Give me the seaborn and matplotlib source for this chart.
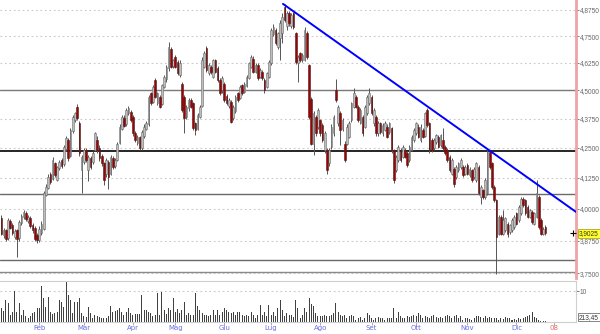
import numpy as np
import pandas as pd
import matplotlib
matplotlib.use("Agg")
import matplotlib.pyplot as plt
import matplotlib.transforms as mtransforms
from matplotlib.ticker import FixedLocator, NullLocator, FuncFormatter
import seaborn as sns

# ---------------- data ----------------
OPEN = [3.961, 3.895, 3.915, 3.885, 3.950, 3.935, 3.890, 3.915, 3.885, 3.945,
        3.968, 3.982, 3.952, 3.962, 3.935, 3.925, 3.898, 3.878, 3.905, 3.920,
        4.055, 4.085, 4.142, 4.120, 4.184, 4.115, 4.165, 4.198, 4.180, 4.245,
        4.283, 4.215, 4.320, 4.370, 4.427, 4.355, 4.156, 4.190, 4.240, 4.156,
        4.205, 4.190, 4.240, 4.283, 4.250, 4.215, 4.184, 4.140, 4.190, 4.140,
        4.205, 4.172, 4.200, 4.270, 4.330, 4.380, 4.350, 4.400, 4.405, 4.384,
        4.311, 4.270, 4.295, 4.250, 4.300, 4.330, 4.350, 4.487, 4.450, 4.547,
        4.445, 4.472, 4.440, 4.515, 4.550, 4.600, 4.690, 4.610, 4.654, 4.630,
        4.570, 4.530, 4.470, 4.384, 4.420, 4.457, 4.442, 4.355, 4.330, 4.384,
        4.430, 4.607, 4.692, 4.577, 4.607, 4.562, 4.638, 4.600, 4.547, 4.500,
        4.530, 4.475, 4.430, 4.450, 4.380, 4.410, 4.487, 4.465, 4.524, 4.495,
        4.520, 4.555, 4.607, 4.645, 4.585, 4.615, 4.560, 4.585, 4.547, 4.516,
        4.560, 4.623, 4.760, 4.779, 4.700, 4.740, 4.763, 4.891, 4.800, 4.859,
        4.800, 4.859, 4.763, 4.623, 4.669, 4.638, 4.640, 4.763, 4.615, 4.460,
        4.268, 4.384, 4.340, 4.369, 4.347, 4.240, 4.240, 4.184, 4.254, 4.311,
        4.502, 4.355, 4.398, 4.330, 4.268, 4.268, 4.297, 4.369, 4.427, 4.472,
        4.427, 4.355, 4.384, 4.340, 4.398, 4.442, 4.472, 4.355, 4.384, 4.311,
        4.355, 4.311, 4.326, 4.340, 4.318, 4.333, 4.240, 4.156, 4.198, 4.240,
        4.212, 4.240, 4.226, 4.198, 4.240, 4.283, 4.311, 4.340, 4.283, 4.326,
        4.300, 4.413, 4.355, 4.283, 4.247, 4.275, 4.297, 4.261, 4.283, 4.254,
        4.240, 4.212, 4.142, 4.163, 4.129, 4.156, 4.170, 4.170, 4.142, 4.177,
        4.135, 4.156, 4.129, 4.115, 4.170, 4.047, 4.074, 4.047, 4.061, 4.233,
        4.184, 4.088, 4.034, 3.902, 3.967, 3.902, 3.915, 3.941, 3.908, 3.915,
        3.928, 3.981, 3.954, 3.981, 4.040, 4.034, 4.007, 3.967, 3.987, 3.941,
        3.967, 4.047, 3.954, 3.902, 3.928]

HIGH = [3.975, 3.925, 3.920, 3.962, 3.960, 3.945, 3.920, 3.920, 3.955, 3.980,
        3.995, 3.990, 3.975, 3.970, 3.945, 3.930, 3.905, 3.930, 3.950, 4.070,
        4.100, 4.140, 4.150, 4.210, 4.190, 4.175, 4.200, 4.205, 4.262, 4.300,
        4.290, 4.335, 4.390, 4.405, 4.440, 4.365, 4.220, 4.250, 4.250, 4.220,
        4.215, 4.235, 4.318, 4.300, 4.260, 4.225, 4.190, 4.205, 4.200, 4.220,
        4.215, 4.205, 4.275, 4.350, 4.392, 4.390, 4.420, 4.430, 4.415, 4.390,
        4.320, 4.305, 4.300, 4.325, 4.350, 4.365, 4.480, 4.495, 4.525, 4.555,
        4.495, 4.480, 4.530, 4.570, 4.615, 4.720, 4.700, 4.645, 4.660, 4.640,
        4.638, 4.540, 4.478, 4.435, 4.465, 4.465, 4.450, 4.360, 4.400, 4.435,
        4.650, 4.680, 4.705, 4.625, 4.615, 4.645, 4.645, 4.610, 4.555, 4.565,
        4.540, 4.485, 4.465, 4.455, 4.435, 4.480, 4.495, 4.525, 4.530, 4.540,
        4.570, 4.630, 4.660, 4.655, 4.625, 4.625, 4.600, 4.592, 4.555, 4.585,
        4.640, 4.790, 4.810, 4.790, 4.770, 4.827, 4.860, 4.905, 4.870, 4.870,
        4.860, 4.865, 4.770, 4.660, 4.675, 4.670, 4.795, 4.775, 4.620, 4.470,
        4.410, 4.390, 4.420, 4.375, 4.355, 4.320, 4.250, 4.250, 4.350, 4.390,
        4.552, 4.435, 4.410, 4.380, 4.280, 4.350, 4.365, 4.450, 4.509, 4.480,
        4.435, 4.420, 4.390, 4.435, 4.480, 4.509, 4.480, 4.420, 4.390, 4.365,
        4.362, 4.355, 4.365, 4.350, 4.362, 4.340, 4.245, 4.220, 4.262, 4.248,
        4.260, 4.248, 4.235, 4.262, 4.305, 4.335, 4.362, 4.350, 4.350, 4.335,
        4.405, 4.420, 4.360, 4.290, 4.290, 4.310, 4.305, 4.310, 4.333, 4.260,
        4.248, 4.220, 4.205, 4.170, 4.178, 4.190, 4.205, 4.178, 4.178, 4.185,
        4.170, 4.163, 4.170, 4.190, 4.177, 4.095, 4.080, 4.122, 4.245, 4.240,
        4.190, 4.095, 4.040, 3.975, 3.975, 3.994, 3.967, 3.948, 3.941, 3.961,
        3.974, 3.988, 4.014, 4.047, 4.047, 4.040, 4.014, 4.000, 3.994, 3.988,
        4.115, 4.055, 3.961, 3.928, 3.935]

LOW = [3.895, 3.885, 3.872, 3.878, 3.920, 3.898, 3.882, 3.812, 3.875, 3.935,
       3.960, 3.950, 3.945, 3.925, 3.905, 3.875, 3.865, 3.870, 3.895, 3.915,
       4.050, 4.080, 4.100, 4.115, 4.128, 4.110, 4.155, 4.165, 4.175, 4.235,
       4.195, 4.210, 4.315, 4.360, 4.370, 4.215, 4.061, 4.180, 4.190, 4.110,
       4.160, 4.180, 4.235, 4.230, 4.195, 4.175, 4.095, 4.130, 4.080, 4.135,
       4.160, 4.165, 4.195, 4.265, 4.325, 4.338, 4.345, 4.390, 4.360, 4.300,
       4.275, 4.260, 4.240, 4.240, 4.290, 4.325, 4.345, 4.435, 4.445, 4.465,
       4.435, 4.420, 4.435, 4.510, 4.540, 4.590, 4.600, 4.600, 4.600, 4.570,
       4.560, 4.405, 4.311, 4.375, 4.410, 4.420, 4.325, 4.304, 4.325, 4.378,
       4.425, 4.600, 4.585, 4.570, 4.575, 4.555, 4.578, 4.540, 4.480, 4.490,
       4.450, 4.435, 4.420, 4.355, 4.370, 4.400, 4.450, 4.460, 4.480, 4.490,
       4.515, 4.550, 4.600, 4.580, 4.578, 4.548, 4.555, 4.548, 4.490, 4.510,
       4.555, 4.615, 4.750, 4.710, 4.690, 4.640, 4.716, 4.815, 4.779, 4.800,
       4.790, 4.785, 4.620, 4.539, 4.630, 4.630, 4.635, 4.645, 4.375, 4.260,
       4.219, 4.300, 4.330, 4.300, 4.275, 4.230, 4.140, 4.175, 4.245, 4.300,
       4.450, 4.345, 4.260, 4.320, 4.190, 4.260, 4.290, 4.360, 4.420, 4.420,
       4.360, 4.350, 4.300, 4.335, 4.390, 4.435, 4.390, 4.345, 4.300, 4.300,
       4.310, 4.300, 4.320, 4.290, 4.310, 4.230, 4.105, 4.148, 4.190, 4.190,
       4.205, 4.205, 4.170, 4.190, 4.235, 4.275, 4.305, 4.290, 4.275, 4.290,
       4.295, 4.340, 4.230, 4.233, 4.240, 4.268, 4.247, 4.255, 4.240, 4.220,
       4.190, 4.148, 4.135, 4.088, 4.120, 4.148, 4.160, 4.128, 4.135, 4.135,
       4.128, 4.108, 4.120, 4.108, 4.054, 4.020, 4.040, 4.040, 4.054, 4.163,
       4.080, 4.027, 3.749, 3.895, 3.895, 3.895, 3.908, 3.889, 3.900, 3.908,
       3.920, 3.935, 3.948, 3.975, 4.007, 3.975, 3.961, 3.961, 3.941, 3.935,
       3.961, 3.920, 3.895, 3.895, 3.895]

CLOSE = [3.902, 3.915, 3.880, 3.954, 3.925, 3.905, 3.912, 3.882, 3.947, 3.972,
         3.985, 3.958, 3.967, 3.930, 3.915, 3.882, 3.876, 3.920, 3.940, 4.061,
         4.088, 4.129, 4.108, 4.198, 4.135, 4.170, 4.190, 4.175, 4.254, 4.290,
         4.205, 4.326, 4.384, 4.398, 4.376, 4.226, 4.212, 4.240, 4.198, 4.212,
         4.170, 4.226, 4.311, 4.240, 4.205, 4.184, 4.115, 4.198, 4.129, 4.212,
         4.170, 4.198, 4.268, 4.340, 4.384, 4.345, 4.413, 4.420, 4.369, 4.311,
         4.283, 4.297, 4.247, 4.318, 4.340, 4.355, 4.472, 4.442, 4.516, 4.472,
         4.487, 4.427, 4.524, 4.562, 4.607, 4.700, 4.607, 4.638, 4.607, 4.577,
         4.623, 4.413, 4.376, 4.427, 4.457, 4.427, 4.333, 4.326, 4.390, 4.427,
         4.638, 4.669, 4.592, 4.615, 4.585, 4.638, 4.585, 4.547, 4.487, 4.555,
         4.457, 4.442, 4.457, 4.362, 4.427, 4.472, 4.457, 4.516, 4.487, 4.531,
         4.562, 4.623, 4.654, 4.585, 4.615, 4.555, 4.592, 4.555, 4.502, 4.577,
         4.630, 4.779, 4.795, 4.716, 4.763, 4.811, 4.843, 4.827, 4.859, 4.811,
         4.851, 4.795, 4.630, 4.654, 4.638, 4.660, 4.779, 4.654, 4.384, 4.268,
         4.398, 4.311, 4.413, 4.311, 4.283, 4.311, 4.156, 4.240, 4.340, 4.384,
         4.457, 4.427, 4.326, 4.369, 4.198, 4.340, 4.355, 4.442, 4.487, 4.427,
         4.369, 4.413, 4.311, 4.427, 4.472, 4.487, 4.398, 4.413, 4.311, 4.355,
         4.318, 4.347, 4.355, 4.297, 4.355, 4.240, 4.115, 4.212, 4.254, 4.198,
         4.254, 4.212, 4.177, 4.254, 4.297, 4.326, 4.355, 4.297, 4.340, 4.297,
         4.398, 4.347, 4.240, 4.240, 4.283, 4.304, 4.254, 4.304, 4.247, 4.226,
         4.198, 4.156, 4.198, 4.101, 4.170, 4.184, 4.198, 4.135, 4.170, 4.142,
         4.163, 4.115, 4.163, 4.184, 4.061, 4.088, 4.047, 4.115, 4.233, 4.170,
         4.088, 4.034, 3.889, 3.967, 3.902, 3.954, 3.961, 3.902, 3.935, 3.954,
         3.967, 3.941, 4.007, 4.040, 4.014, 3.981, 3.967, 3.994, 3.948, 3.981,
         4.061, 3.928, 3.902, 3.921, 3.9025]

VOLUME = [4.5, 3.5, 7.1, 6.1, 2.3, 3.4, 10.0, 3.4, 6.1, 2.3,
          3.9, 1.8, 1.3, 1.8, 2.9, 3.4, 4.5, 4.7, 11.9, 7.7,
          5.0, 8.2, 3.4, 2.6, 2.9, 3.4, 7.1, 6.6, 5.0, 13.0,
          8.7, 7.1, 2.9, 6.6, 6.6, 7.9, 2.9, 1.8, 1.5, 5.0,
          2.9, 1.3, 2.3, 1.8, 1.5, 1.3, 1.3, 1.3, 1.8, 5.3,
          3.4, 3.6, 3.9, 4.7, 3.4, 2.3, 3.4, 4.5, 2.9, 2.3,
          2.6, 2.6, 2.6, 8.7, 3.9, 3.9, 3.4, 2.9, 1.8, 2.3,
          9.6, 2.3, 9.8, 3.9, 2.6, 4.5, 3.9, 7.9, 3.4, 4.2,
          2.9, 3.9, 6.6, 2.3, 2.9, 2.3, 2.3, 9.6, 5.3, 3.9,
          2.9, 2.3, 2.3, 1.8, 2.3, 3.9, 2.3, 3.9, 2.3, 3.4,
          4.5, 3.9, 3.4, 2.9, 3.4, 2.3, 3.4, 3.4, 2.3, 1.8,
          2.3, 1.8, 3.4, 2.3, 1.3, 2.3, 5.5, 2.3, 3.4, 1.8,
          5.5, 2.3, 3.4, 1.8, 4.5, 7.1, 3.9, 1.8, 2.9, 2.3,
          2.3, 1.5, 7.1, 4.5, 1.3, 2.3, 4.5, 3.4, 7.9, 5.8,
          5.3, 2.9, 1.8, 2.1, 2.0, 2.3, 1.8, 1.8, 2.3, 2.9,
          6.1, 3.4, 2.3, 1.8, 2.3, 1.3, 1.8, 2.3, 1.8, 0.75,
          1.3, 1.5, 0.75, 1.3, 2.9, 2.3, 1.3, 0.75, 1.3, 1.5,
          1.3, 1.3, 0.75, 1.3, 1.3, 1.3, 4.7, 1.3, 3.4, 1.8,
          1.3, 1.3, 1.8, 1.5, 1.8, 2.3, 1.8, 2.9, 2.3, 1.3,
          1.8, 1.5, 1.3, 1.8, 2.3, 1.5, 1.3, 1.5, 1.3, 1.8,
          2.3, 1.8, 1.3, 1.8, 2.3, 1.3, 1.8, 0.75, 1.3, 1.3,
          1.1, 0.75, 1.3, 1.8, 1.8, 1.5, 1.3, 1.8, 1.3, 1.5,
          1.3, 1.3, 1.3, 0.75, 1.3, 1.1, 1.5, 1.3, 1.3, 0.75,
          1.1, 0.75, 1.3, 1.1, 1.3, 1.5, 1.8, 2.3, 3.4, 1.5,
          1.3, 0.75, 0.4, 0.2, 0.2]

HOLIDAYS = ["2007-04-06", "2007-04-09", "2007-05-01", "2007-12-24",
            "2007-12-25", "2007-12-26", "2007-12-31", "2008-01-01"]
FIRST_DAY = "2007-01-09"
MONTH_LABELS = ["Feb", "Mar", "Apr", "Mag", "Giu", "Lug", "Ago", "Set",
                "Ott", "Nov", "Dic", "08"]
PRICE_TICKS = [3.75, 3.875, 4.0, 4.125, 4.25, 4.375, 4.5, 4.625, 4.75, 4.875]
LEVELS = [4.5, 4.236, 4.058, 3.800, 3.757]
LEVEL_COLORS = ["#7a7a7a", "#000000", "#6a6a6a", "#6a6a6a", "#8a8a8a"]
TREND_DAY = [126.3, 257.7]
TREND_PRICE = [4.905, 3.987]
LAST_PRICE = 3.9025
LAST_VOL_LABEL = "213,45"

# ---------------- figure ----------------
sns.set_theme(style="white")
plt.rcParams["font.family"] = ["DejaVu Sans"]
NARROW = ["Liberation Sans", "DejaVu Sans"]

W, H = 600, 334
fig = plt.figure(figsize=(W / 100, H / 100), dpi=100, facecolor="white")
ax = fig.add_axes([0, 56 / H, 576 / W, 278 / H])
axv = fig.add_axes([0, 12 / H, 576 / W, 41 / H])

n = len(CLOSE)
all_days = pd.bdate_range(FIRST_DAY, "2008-01-31", freq="C", holidays=HOLIDAYS)
idx = np.arange(n)
xmin, xmax = -0.6, 257.7

o = np.array(OPEN); c = np.array(CLOSE); h = np.array(HIGH); l = np.array(LOW)
up = c >= o

# grid + levels
ax.set_yscale("log")
ax.set_ylim(3.733, 4.924)
ax.set_xlim(xmin, xmax)
for t in PRICE_TICKS:
    ax.axhline(t, color="#c9c9c9", lw=0.8, ls=(0, (1.5, 2.5)), zorder=0)
for lev, col in zip(LEVELS, LEVEL_COLORS):
    ax.axhline(lev, color=col, lw=1.0 if col != "#000000" else 1.2, zorder=1)

# candles
ax.vlines(idx, l, h, color="#555555", lw=0.7, zorder=2)
ax.bar(idx[up], (c - o)[up], bottom=o[up], width=0.75, color="#bdbdbd",
       edgecolor="#6a6a6a", linewidth=0.4, zorder=3)
ax.bar(idx[~up], (o - c)[~up], bottom=c[~up], width=0.75, color="#a00000",
       edgecolor="#4a1a1a", linewidth=0.4, zorder=3)

# trend line
sns.lineplot(x=TREND_DAY, y=TREND_PRICE, ax=ax, color="#0000ff", lw=1.4,
             zorder=4)

ax.yaxis.tick_right()
ax.yaxis.set_major_locator(FixedLocator(PRICE_TICKS))
ax.yaxis.set_minor_locator(NullLocator())
ax.yaxis.set_major_formatter(FuncFormatter(lambda v, p: f"{v:.4f}".replace(".", ",")))
ax.tick_params(axis="y", which="major", direction="out", length=2, width=0.6,
               pad=0.5, labelsize=4.7, colors="#666666", right=True, left=False)
for lab in ax.get_yticklabels():
    lab.set_family(NARROW)
ax.tick_params(axis="x", bottom=False, labelbottom=False)
ax.set_xticks([])
for s in ["top", "left", "bottom"]:
    ax.spines[s].set_visible(False)
ax.spines["right"].set_color("#efa3a3")
ax.spines["right"].set_linewidth(2)
ax.set_xlabel(""); ax.set_ylabel("")

blend = mtransforms.blended_transform_factory(ax.transAxes, ax.transData)
ax.text(1.0055, LAST_PRICE, f"{LAST_PRICE:.4f}".replace(".", ","), transform=blend,
        fontsize=4.7, family=NARROW, color="#333300", va="center", ha="left",
        zorder=6,
        bbox=dict(boxstyle="square,pad=0.12", fc="#ffff33", ec="#999900", lw=0.5))
ax.plot([0.9948], [LAST_PRICE], transform=blend, marker="+", ms=4, mew=0.8,
        color="black", clip_on=False, zorder=6)

# ---------------- volume ----------------
vol_df = pd.DataFrame({"day": idx, "vol": VOLUME})
sns.barplot(data=vol_df, x="day", y="vol", ax=axv, native_scale=True,
            color="#404040", width=0.45, errorbar=None, saturation=1,
            linewidth=0)
axv.set_xlim(xmin, xmax)
axv.set_ylim(0, 13.4)
axv.axhline(10, color="#c9c9c9", lw=0.8, ls=(0, (1.5, 2.5)), zorder=0)
axv.yaxis.tick_right()
axv.set_yticks([10])
axv.set_yticklabels(["10"])
axv.tick_params(axis="y", direction="out", length=2, width=0.6, pad=0.5,
                labelsize=4.7, colors="#666666", right=True, left=False)
for lab in axv.get_yticklabels():
    lab.set_family(NARROW)

month_pos = []
for m in pd.period_range("2007-02", "2008-01", freq="M"):
    sel = np.where((all_days.year == m.year) & (all_days.month == m.month))[0]
    month_pos.append(sel[0])
axv.set_xticks(month_pos)
axv.set_xticklabels(MONTH_LABELS)
axv.tick_params(axis="x", direction="out", length=2, width=0.6, pad=0.5,
                labelsize=5, colors="#9999cc", bottom=True)
for lab in axv.get_xticklabels():
    lab.set_color("#6e6ee0")
axv.get_xticklabels()[-1].set_color("#e06868")
axv.spines["left"].set_visible(False)
for s in ["top", "bottom", "right"]:
    axv.spines[s].set_color("#cfcfcf")
    axv.spines[s].set_linewidth(0.8)
axv.set_xlabel(""); axv.set_ylabel("")
axv.text(1.0055, 0.12, LAST_VOL_LABEL, transform=axv.transAxes, fontsize=4.7,
         family=NARROW, color="#333333", va="center", ha="left",
         bbox=dict(boxstyle="square,pad=0.12", fc="white", ec="#555555", lw=0.5))

fig.savefig("out.png", dpi=100, facecolor="white")
